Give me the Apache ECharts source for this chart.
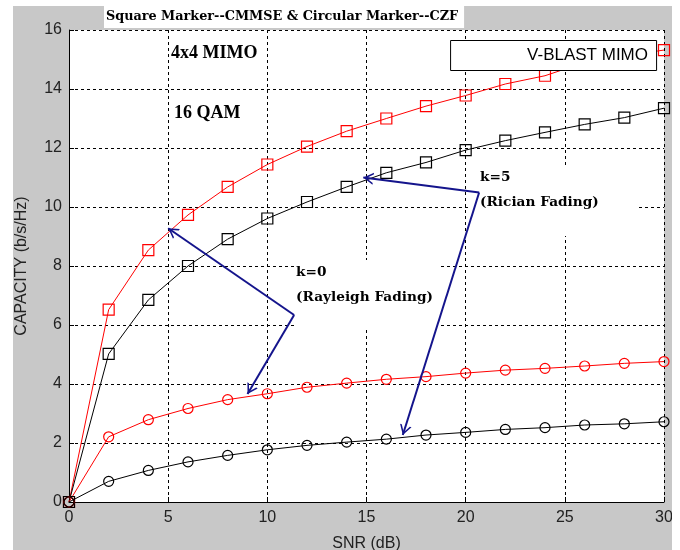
<!DOCTYPE html>
<html>
<head>
<meta charset="utf-8">
<script src="https://cdn.jsdelivr.net/npm/echarts@6/dist/echarts.min.js"></script>
<style>
  html, body { margin: 0; padding: 0; background: #fff; }
  #main { position: absolute; left: 13px; top: 6px; width: 659px; height: 544px; background: #c8c8c8; }
</style>
</head>
<body>
<div id="main"></div>
<script>
// SNR (dB) points
const snr = [0, 2, 4, 6, 8, 10, 12, 14, 16, 18, 20, 22, 24, 26, 28, 30]
// square markers = CMMSE, circles = CZF ; red = k=0 (Rayleigh), black = k=5 (Rician)
const cmmseRayleigh = [0, 6.52, 8.54, 9.73, 10.68, 11.44, 12.05, 12.57, 13.0, 13.42, 13.78, 14.17, 14.45, 14.9, 15.12, 15.32]
const cmmseRician = [0, 5.02, 6.85, 8.0, 8.91, 9.61, 10.17, 10.68, 11.16, 11.51, 11.93, 12.25, 12.53, 12.8, 13.03, 13.35]
const czfRayleigh = [0, 2.21, 2.79, 3.17, 3.47, 3.67, 3.89, 4.03, 4.16, 4.25, 4.37, 4.47, 4.53, 4.61, 4.70, 4.76]
const czfRician = [0, 0.70, 1.07, 1.36, 1.58, 1.77, 1.92, 2.03, 2.13, 2.27, 2.36, 2.46, 2.52, 2.61, 2.65, 2.72]

// annotation arrows [from, to] in data units
const arrows = [
  [[11.35, 6.34], [5.0, 9.28]],
  [[11.35, 6.34], [9.0, 3.66]],
  [[20.68, 10.49], [14.84, 11.0]],
  [[20.68, 10.49], [16.83, 2.27]]
]

const xTicks = {min: 0, max: 30, interval: 5}
const yTicks = {min: 0, max: 16, interval: 2}

// open arrow head, tip at the centre of the bbox
const arrowHead = 'path://M6,10 L12,20 L10.2,20 L6,13 L1.8,20 L0,20 Z M6,0 L6,0'

const chart = echarts.init(document.getElementById('main'))

function curve(values, color, symbol, size) {
  return {
    type: 'line',
    data: snr.map((x, i) => [x, values[i]]),
    symbol: symbol,
    symbolSize: size,
    lineStyle: {color: color, width: 1},
    itemStyle: {color: 'transparent', borderColor: color, borderWidth: 1.2},
    emphasis: {disabled: true},
    z: 3
  }
}

const axisText = {color: '#222', fontFamily: 'Liberation Sans', fontSize: 16}
const gridDash = {color: '#000', type: [3, 3], width: 1}
const serifBold = {fontFamily: 'Liberation Serif', fontWeight: 'bold', color: '#000'}
const wideBold = {fontFamily: 'DejaVu Serif', fontWeight: 'bold', color: '#000'}

const option = {
  animation: false,
  title: [
    {
      text: 'Square Marker--CMMSE & Circular Marker--CZF',
      left: 91, top: 0,
      padding: [4, 6, 4, 2],
      backgroundColor: '#fff',
      textStyle: Object.assign({fontSize: 12.8, lineHeight: 14}, wideBold)
    },
    {
      text: 'V-BLAST MIMO',
      right: 15, top: 34,
      padding: [6, 9, 6, 77],
      backgroundColor: '#fff',
      borderColor: '#000',
      borderWidth: 1,
      z: 6,
      textStyle: {fontFamily: 'Liberation Sans', fontWeight: 'normal', fontSize: 17, lineHeight: 19, color: '#000'}
    },
    {
      text: '4x4 MIMO',
      left: 158, top: 37, padding: 0,
      textStyle: Object.assign({fontSize: 18, lineHeight: 20}, serifBold)
    },
    {
      text: '16 QAM',
      left: 161, top: 97, padding: 0,
      textStyle: Object.assign({fontSize: 18, lineHeight: 20}, serifBold)
    },
    {
      text: 'k=0\n(Rayleigh Fading)',
      left: 282, top: 254,
      padding: [0, 6, 17, 1],
      backgroundColor: '#fff',
      z: 1,
      textStyle: Object.assign({fontSize: 13.7, lineHeight: 25}, wideBold)
    },
    {
      text: 'k=5\n(Rician Fading)',
      left: 457, top: 159,
      padding: [0, 39, 21, 10],
      backgroundColor: '#fff',
      z: 1,
      textStyle: Object.assign({fontSize: 13.7, lineHeight: 25}, wideBold)
    }
  ],
  grid: {
    left: 56, right: 8, top: 24, bottom: 48,
    show: true, backgroundColor: '#fff', borderWidth: 0,
    containLabel: false, outerBoundsMode: 'none'
  },
  xAxis: {
    type: 'value',
    min: xTicks.min, max: xTicks.max, interval: xTicks.interval,
    name: 'SNR (dB)', nameLocation: 'middle', nameGap: 34,
    nameTextStyle: axisText,
    axisLine: {onZero: false, lineStyle: {color: '#000', width: 1}},
    axisTick: {inside: true, length: 5, lineStyle: {color: '#000'}},
    axisLabel: Object.assign({margin: 8}, axisText),
    splitLine: {show: true, lineStyle: gridDash}
  },
  yAxis: {
    type: 'value',
    min: yTicks.min, max: yTicks.max, interval: yTicks.interval,
    name: 'CAPACITY (b/s/Hz)', nameLocation: 'middle', nameGap: 39,
    nameTextStyle: axisText,
    axisLine: {show: true, onZero: false, lineStyle: {color: '#000', width: 1}},
    axisTick: {show: true, inside: true, length: 5, lineStyle: {color: '#000'}},
    axisLabel: Object.assign({margin: 7}, axisText),
    splitLine: {show: true, lineStyle: gridDash}
  },
  series: [
    curve(cmmseRayleigh, '#ff0000', 'rect', 11),
    curve(cmmseRician, '#000000', 'rect', 11),
    curve(czfRayleigh, '#ff0000', 'circle', 10),
    curve(czfRician, '#000000', 'circle', 10),
    {
      type: 'line',
      data: [],
      z: 4,
      markLine: {
        silent: true,
        animation: false,
        symbol: ['none', arrowHead],
        symbolSize: [12, 20],
        label: {show: false},
        emphasis: {disabled: true},
        lineStyle: {color: '#14148c', width: 2, type: 'solid'},
        data: arrows.map(a => [{coord: a[0]}, {coord: a[1]}])
      }
    }
  ]
}

chart.setOption(option)
</script>
</body>
</html>
